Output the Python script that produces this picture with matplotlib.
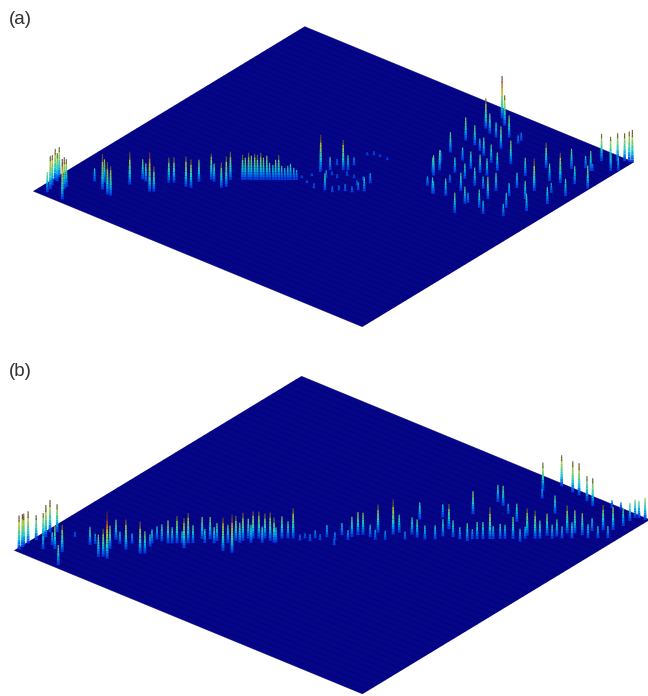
import matplotlib
matplotlib.use("Agg")
import matplotlib.pyplot as plt
import numpy as np
from mpl_toolkits.mplot3d.art3d import Poly3DCollection

# panel (a) peaks: x, y position on the floor (0-100) and height
a_x = [2.9, 2.5, 1.7, 0.7, 1.4, 0.6, 7.7, 5.1, 4.8,
       8.2, 12.0, 10.3, 14.4, 15.3, 15.5, 16.3, 17.5, 21.2, 22.0, 22.0, 22.9, 26.3, 27.5, 27.2,
       28.8, 29.9, 33.0, 33.6, 32.3,
       34.5, 35.0, 35.6, 36.1, 36.7, 37.2, 37.8, 38.3, 38.9, 39.4, 40.0, 40.5, 41.1,
       41.6, 42.2, 42.7, 43.2, 43.8, 44.3, 44.7, 47.1, 45.9,
       45.7, 47.4, 49.8, 50.7, 52.5, 59.9, 58.6, 54.4, 55.0, 56.4, 58.0, 58.5, 51.1, 52.3, 54.2, 49.3,
       49.7, 50.9, 52.6, 54.8, 66.7, 67.3, 72.9, 69.6,
       63.1, 65.7, 63.2, 65.4, 63.1, 66.2, 63.9, 71.9, 70.1, 67.7, 70.9, 68.7, 74.3, 77.8, 78.2,
       73.2, 73.5, 65.1, 67.7, 68.5, 72.4, 70.7, 75.3, 77.4, 74.3, 78.2, 72.8, 77.2, 83.6, 84.5,
       80.6, 69.0, 73.1, 75.9, 81.8, 82.1, 82.7, 85.6, 88.1, 92.4, 90.5, 87.5, 86.5, 91.3, 95.1,
       84.4, 90.5, 85.8, 90.3, 96.8, 94.2, 92.9, 97.7, 90.7, 95.8, 93.0, 99.5, 94.8, 95.1,
       93.8, 96.3, 96.7, 98.0, 99.0, 99.7, 98.4, 99.6,
       49.9, 46.2, 49.1, 47.2, 50.3, 56.8, 56.4]
a_y = [1.7, 3.3, 5.0, 7.3, 7.2, 8.9, 1.4, 5.3, 6.4,
       12.7, 11.0, 13.8, 9.9, 10.0, 16.8, 20.6, 20.3, 17.2, 17.8, 23.3, 24.1, 24.4, 24.8, 28.1,
       30.7, 30.4, 29.3, 30.4, 33.5,
       35.3, 35.7, 36.2, 36.6, 37.1, 37.5, 38.0, 38.4, 38.9, 39.3, 39.8, 40.2, 40.6,
       41.1, 41.5, 42.0, 42.4, 42.9, 43.3, 44.8, 43.7, 47.0,
       50.5, 51.9, 53.8, 54.5, 43.8, 49.3, 53.1, 44.2, 45.9, 46.5, 47.1, 48.8, 50.0, 52.2, 52.5, 50.3,
       62.8, 63.8, 64.0, 64.0, 66.3, 68.1, 58.7, 60.8,
       96.2, 94.0, 90.1, 88.9, 82.8, 82.4, 76.2, 85.1, 90.3, 88.4, 80.0, 81.2, 78.6, 76.6, 81.1,
       91.0, 89.5, 71.1, 65.4, 75.1, 73.4, 69.6, 73.3, 73.3, 68.9, 67.8, 65.2, 63.9, 69.1, 65.0,
       68.0, 61.6, 58.8, 59.9, 59.8, 60.6, 55.0, 60.5, 58.9, 61.1, 64.5, 69.2, 73.3, 70.5, 66.4,
       78.9, 74.8, 84.9, 80.7, 72.0, 76.6, 81.5, 77.6, 88.3, 83.3, 90.7, 83.6, 90.4, 90.7,
       95.6, 95.9, 98.0, 99.0, 99.5, 99.8, 93.4, 94.7,
       42.9, 49.7, 48.4, 54.7, 57.2, 50.4, 53.2]
a_h = [20, 33, 30, 31, 28, 30, 40, 32, 28,
       13, 35, 23, 32, 29, 32, 20, 18, 39, 25, 25, 25, 30, 28, 22,
       26, 18, 25, 30, 28,
       25, 22, 27, 24, 26, 25, 27, 22, 24, 17, 15, 20, 25,
       14, 12, 14, 16, 12, 10, 3, 3, 3,
       35, 13, 30, 15, 17, 14, 10, 6, 5, 7, 6, 8, 4, 5, 4, 4,
       3, 4, 3, 3, 15, 20, 16, 8,
       42, 30, 30, 20, 23, 20, 20, 22, 22, 15, 18, 12, 18, 18, 23,
       8, 8, 12, 20, 13, 17, 15, 18, 17, 15, 18, 8, 18, 18, 22,
       12, 7, 12, 17, 17, 10, 20, 18, 13, 12, 15, 13, 15, 18, 17,
       18, 32, 25, 17, 17, 10, 30, 17, 20, 18, 12, 23, 20, 7,
       27, 27, 28, 28, 30, 32, 15, 13,
       5, 6, 8, 6, 8, 5, 4]

# panel (b) peaks
b_x = [0.6, 0.5, 0.3, 0.4, 0.9, 2.1, 1.7, 1.0, 2.2, 11.7, 6.6, 8.7, 4.6, 5.0, 6.6,
       11.4, 16.2, 18.2, 17.0, 15.9, 14.4, 18.9, 22.4, 23.2, 22.1, 21.3, 22.7, 24.3, 25.8, 28.4, 27.7,
       28.9, 30.3, 32.0, 35.8, 37.9, 35.2, 36.4, 36.7, 37.5, 38.5, 39.5, 41.0, 42.2, 42.4, 43.4, 44.3,
       46.0, 46.3, 48.0, 48.0, 49.4, 49.7, 53.2, 51.7, 53.9, 54.4, 55.2, 57.0, 57.2, 60.3, 60.8, 63.5,
       60.6, 65.2, 63.9, 68.3, 69.3, 71.3, 74.8, 68.2, 75.9, 76.9, 78.1, 78.6, 79.8, 69.0, 71.0, 74.1,
       77.8, 82.0, 83.5, 84.0, 85.7, 86.9, 82.0, 88.8, 89.7, 91.0, 92.8, 93.3, 94.9, 96.6, 97.2, 96.9,
       96.9, 97.6, 99.2, 73.5, 75.6, 75.5, 79.1, 81.0, 84.0, 86.4, 90.2, 92.1,
       12.0, 16.2, 18.2, 21.6, 25.0, 26.7, 28.5, 30.5, 32.1, 34.4, 36.4, 38.3, 40.2, 42.5,
       51.9, 54.1, 58.7, 60.4, 63.7, 67.1, 68.8, 73.0, 75.1, 80.6, 84.0, 86.5, 88.6, 90.2, 91.9,
       94.6, 96.3, 98.0]
b_y = [1.0, 2.3, 3.0, 4.4, 6.6, 7.6, 9.0, 11.3, 12.3, 1.2, 6.2, 6.2, 4.5, 7.2, 13.2,
       12.6, 9.7, 10.3, 10.4, 14.1, 18.0, 16.0, 16.7, 17.4, 20.5, 23.9, 23.9, 24.1, 25.4, 24.7, 27.0,
       30.4, 31.5, 31.8, 29.3, 29.9, 34.5, 35.5, 37.0, 37.7, 38.5, 39.4, 39.4, 39.3, 41.8, 42.7, 43.4,
       43.7, 45.1, 44.8, 46.6, 46.6, 48.6, 46.9, 51.4, 52.2, 53.7, 54.5, 54.8, 57.3, 58.8, 60.3, 61.5,
       67.7, 61.2, 71.7, 68.5, 65.2, 66.3, 67.0, 77.0, 69.1, 69.9, 70.9, 71.4, 72.4, 84.7, 84.1, 82.1,
       80.6, 74.2, 77.3, 74.2, 77.4, 80.1, 88.8, 81.2, 83.7, 84.8, 85.2, 88.0, 89.9, 91.3, 94.1, 96.8,
       98.6, 99.1, 99.3, 94.9, 92.1, 99.0, 98.5, 98.4, 97.5, 96.6, 98.7, 99.5,
       13.7, 17.2, 19.0, 21.8, 24.7, 26.1, 27.7, 29.4, 30.7, 32.7, 34.4, 36.0, 37.6, 39.6,
       48.7, 50.6, 54.5, 55.9, 58.8, 61.6, 63.1, 66.6, 68.4, 73.1, 76.0, 78.1, 79.8, 81.3, 82.7,
       85.0, 86.4, 87.8]
b_h = [34, 33, 32, 32, 25, 27, 32, 32, 28, 20, 23, 27, 13, 13, 5,
       18, 22, 47, 28, 23, 20, 30, 32, 22, 12, 13, 17, 23, 27, 30, 30,
       22, 22, 18, 33, 38, 25, 28, 20, 27, 27, 25, 28, 25, 22, 17, 30,
       6, 5, 7, 8, 6, 12, 6, 12, 20, 23, 22, 12, 28, 35, 18, 17,
       17, 18, 13, 25, 17, 17, 18, 23, 17, 17, 32, 13, 15, 17, 20, 10,
       18, 22, 27, 13, 28, 22, 18, 17, 28, 23, 22, 13, 25, 23, 17, 18,
       18, 17, 22, 28, 10, 31, 31, 32, 25, 28, 8, 7,
       10, 12, 10, 14, 16, 12, 18, 14, 16, 18, 20, 18, 16, 15,
       8, 10, 10, 9, 8, 14, 14, 12, 10, 14, 12, 18, 14, 12, 16,
       14, 12, 12]

fig_w, fig_h = 648, 696
jet = plt.get_cmap("jet")
navy = np.array([0.02, 0.02, 0.5])
tip_grey = np.array([0.25, 0.25, 0.22])


def spike_polys(xs, ys, hs):
    # each peak is a thin sliver facing the viewer, cut in slices for the colour ramp
    ax_u, ax_v = 0.772, 0.636
    polys, colors = [], []
    for x, y, h in zip(xs, ys, hs):
        levels = np.append(np.arange(0, h, 2.5), h)
        for z0, z1 in zip(levels[:-1], levels[1:]):
            w0 = 0.34 - 0.22 * z0 / h
            w1 = 0.34 - 0.22 * z1 / h
            polys.append([(x - w0 * ax_u, y - w0 * ax_v, z0), (x + w0 * ax_u, y + w0 * ax_v, z0),
                          (x + w1 * ax_u, y + w1 * ax_v, z1), (x - w1 * ax_u, y - w1 * ax_v, z1)])
            c = np.array(jet(min(0.2 + z0 / 55.0, 1.0)))
            c[:3] = 0.78 * c[:3] + 0.22 * navy
            if h >= 25 and z0 > 0.78 * h:
                c[:3] = 0.3 * c[:3] + 0.7 * tip_grey
            colors.append(c)
    return polys, colors


def draw_panel(left, bottom, size, hz, xs, ys, hs):
    ax = fig.add_axes([left / fig_w, bottom / fig_h, size / fig_w, size / fig_h],
                      projection="3d", proj_type="ortho", computed_zorder=False)
    ax.view_init(elev=30, azim=-50.5)
    ax.set_box_aspect((1, 1, hz), zoom=0.8)
    ax.patch.set_alpha(0)

    grid = np.linspace(0, 100, 101)
    gx, gy = np.meshgrid(grid, grid)
    gz = np.zeros_like(gx)
    ax.plot_surface(gx, gy, gz, rcount=1, ccount=1, color="#05058a", shade=False,
                    linewidth=0, zorder=1)
    ax.plot_wireframe(gx, gy, gz, rcount=100, ccount=0, color="#00004a", linewidth=0.35,
                      alpha=0.6, zorder=1.5)

    polys, colors = spike_polys(xs, ys, hs)
    spikes = Poly3DCollection(polys, facecolors=colors, edgecolors="none", linewidths=0,
                              zsort="average", zorder=2)
    ax.add_collection3d(spikes)

    ax.set_xlim(0, 100)
    ax.set_ylim(0, 100)
    ax.set_zlim(0, 60)
    ax.set_axis_off()
    return ax


fig = plt.figure(figsize=(fig_w / 100, fig_h / 100), dpi=100)

draw_panel(-45.1, 170.9, 737.3, 0.1634, a_x, a_y, a_h)
draw_panel(-68.4, -209.4, 779.7, 0.1537, b_x, b_y, b_h)

fig.text(9 / fig_w, 1 - 19 / fig_h, "(a)", family="Liberation Sans", fontsize=13.5, color="#333333",
         ha="left", va="center")
fig.text(9 / fig_w, 1 - 371 / fig_h, "(b)", family="Liberation Sans", fontsize=13.5, color="#333333",
         ha="left", va="center")

fig.savefig("out.png", dpi=100)
